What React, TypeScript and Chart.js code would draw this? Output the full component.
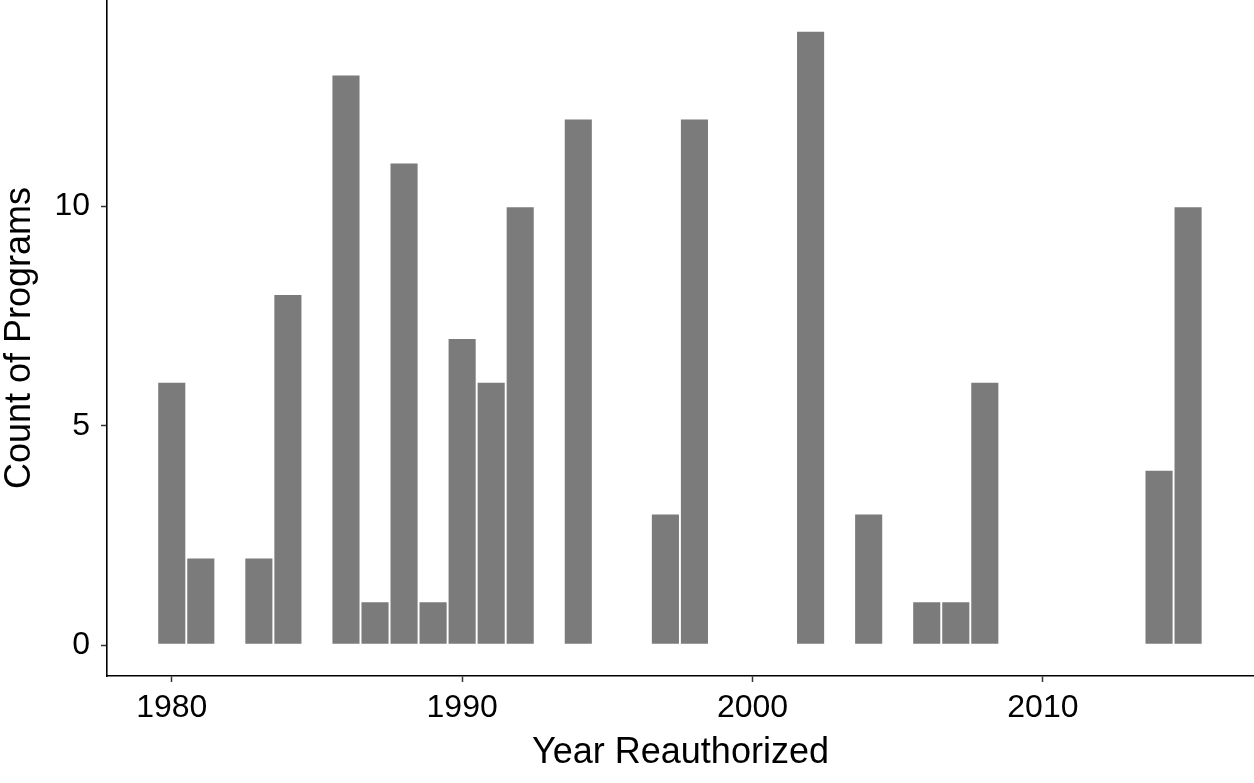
import React, { useEffect, useRef } from "react";
import { Chart, registerables } from "chart.js";

Chart.register(...registerables);

const years = [1980, 1981, 1983, 1984, 1986, 1987, 1988, 1989, 1990, 1991, 1992, 1994, 1997, 1998, 2002, 2004, 2006, 2007, 2008, 2014, 2015];
const counts = [6, 2, 2, 8, 13, 1, 11, 1, 7, 6, 10, 12, 3, 12, 14, 3, 1, 1, 6, 4, 10];
const xTicks = [1980, 1990, 2000, 2010];
const yTicks = [0, 5, 10];
const xTitle = "Year Reauthorized";
const yTitle = "Count of Programs";

const FONT = "'Liberation Sans', Arial, Helvetica, sans-serif";

export default function App() {
  const ref = useRef<HTMLCanvasElement | null>(null);

  useEffect(() => {
    if (!ref.current) return;
    const chart = new Chart(ref.current, {
      type: "bar",
      data: {
        datasets: [
          {
            data: years.map((y, i) => ({ x: y, y: counts[i] })),
            backgroundColor: "#7b7b7b",
            borderColor: "#ffffff",
            borderWidth: 1.3,
            borderSkipped: false,
            barPercentage: 1,
            categoryPercentage: 1,
          },
        ],
      },
      options: {
        animation: false,
        responsive: false,
        layout: { padding: 0 },
        plugins: { legend: { display: false }, tooltip: { enabled: false } },
        scales: {
          x: {
            type: "linear",
            min: 1977.77,
            max: 2017.27,
            offset: false,
            afterBuildTicks: (s: any) => {
              s.ticks = xTicks.map((v) => ({ value: v }));
            },
            afterFit: (s: any) => {
              s.height = 107;
              s.paddingLeft = 0;
              s.paddingRight = 0;
            },
            grid: {
              display: true,
              offset: false,
              drawOnChartArea: false,
              drawTicks: true,
              tickLength: 6,
              tickWidth: 1.5,
              tickColor: "#333333",
            },
            border: { display: true, color: "#000000", width: 1.6 },
            ticks: {
              autoSkip: false,
              maxRotation: 0,
              padding: 7,
              color: "#000000",
              font: { family: FONT, size: 32 },
              callback: (v: any) => String(v),
            },
            title: {
              display: true,
              text: xTitle,
              color: "#000000",
              font: { family: FONT, size: 36, lineHeight: 1.11 },
              padding: { top: 0, bottom: 10 },
            },
          },
          y: {
            type: "linear",
            min: -0.7,
            max: 14.7,
            afterBuildTicks: (s: any) => {
              s.ticks = yTicks.map((v) => ({ value: v }));
            },
            afterFit: (s: any) => {
              s.width = 107;
              s.paddingTop = 0;
              s.paddingBottom = 0;
            },
            grid: {
              display: true,
              offset: false,
              drawOnChartArea: false,
              drawTicks: true,
              tickLength: 6,
              tickWidth: 1.5,
              tickColor: "#333333",
            },
            border: { display: true, color: "#000000", width: 1.6 },
            ticks: {
              autoSkip: false,
              padding: 11,
              color: "#000000",
              font: { family: FONT, size: 32 },
              callback: (v: any) => String(v),
            },
            title: {
              display: true,
              text: yTitle,
              color: "#000000",
              font: { family: FONT, size: 36, lineHeight: 1.11 },
              padding: { top: 0, bottom: 0 },
            },
          },
        },
      },
    });
    return () => chart.destroy();
  }, []);

  return (
    <div style={{ position: "fixed", left: 0, top: 0, width: 1254, height: 783, background: "#ffffff" }}>
      <canvas ref={ref} width={1254} height={783} style={{ display: "block" }} />
    </div>
  );
}
